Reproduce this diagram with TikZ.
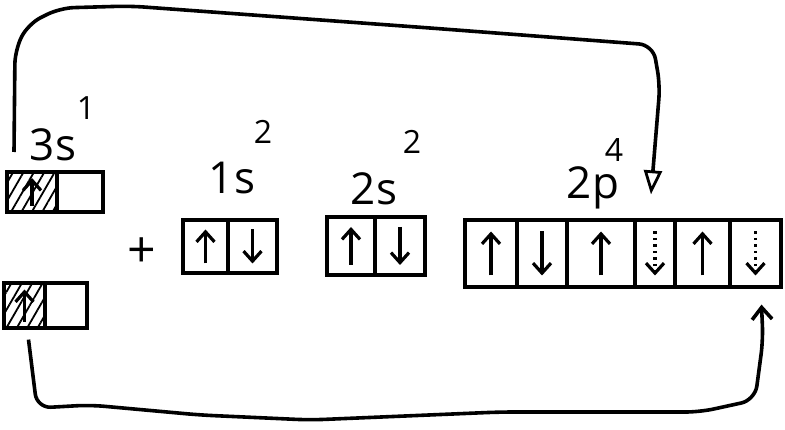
\documentclass[tikz,border=0pt]{standalone}
\usepackage{fontspec}
\setmainfont{Open Sans}
\usetikzlibrary{arrows.meta, positioning, patterns.meta}
\tikzset{
    cell/.style = {rectangle, draw=black, line width=3.2pt, inner sep=0pt},
    hatched/.style = {pattern={Lines[angle=60, distance=9pt, line width=1.8pt]}},
    orblabel/.style = {font=\fontsize{44}{50}\selectfont},
    occ/.style = {font=\fontsize{32}{36}\selectfont},
    spin/.style = {line width=3.2pt, -{Straight Barb[length=10pt, width=18pt]}},
    ghost/.style = {spin, dash pattern=on 2.5pt off 4pt},
    link/.style = {line width=3.6pt, rounded corners=14pt}
}
\begin{document}
\begin{tikzpicture}[x=1pt, y=1pt]
\useasboundingbox (0,0) rectangle (785,429);

\node (u1) [cell, hatched, minimum width=50pt, minimum height=40pt] at (32,237) {};
\node (u2) [cell, minimum width=46pt, minimum height=40pt] at (80,237) {};
\node (l1) [cell, hatched, minimum width=41pt, minimum height=45pt] at (24.5,123.5) {};
\node (l2) [cell, minimum width=42pt, minimum height=45pt] at (66,123.5) {};

\node (a1) [cell, minimum width=45pt, minimum height=53pt] at (205.5,182.5) {};
\node (a2) [cell, minimum width=49pt, minimum height=53pt] at (252.5,182.5) {};
\node (b1) [cell, minimum width=48pt, minimum height=58pt] at (351,183) {};
\node (b2) [cell, minimum width=50pt, minimum height=58pt] at (400,183) {};

\node (p1) [cell, minimum width=52pt, minimum height=67pt] at (491,175.5) {};
\node (p2) [cell, minimum width=50pt, minimum height=67pt] at (542,175.5) {};
\node (p3) [cell, minimum width=68pt, minimum height=67pt] at (601,175.5) {};
\node (p4) [cell, minimum width=40pt, minimum height=67pt] at (655,175.5) {};
\node (p5) [cell, minimum width=55pt, minimum height=67pt] at (702.5,175.5) {};
\node (p6) [cell, minimum width=51pt, minimum height=67pt] at (755.5,175.5) {};

\node (lbl3s) [orblabel] at (53,284) {3s};
\node (occ3s) [occ] at (86,321) {1};
\node (lbl1s) [orblabel] at (232,251) {1s};
\node (occ1s) [occ] at (263,297) {2};
\node (lbl2s) [orblabel] at (374,240) {2s};
\node (occ2s) [occ] at (412,287) {2};
\node (lbl2p) [orblabel] at (593,241) {2p};
\node (occ2p) [occ] at (614,279) {4};
\node (plus) [font=\fontsize{50}{54}\selectfont] at (142,176) {+};

\draw [spin] ([yshift=-14pt]u1.center) -- ([yshift=14pt]u1.center);
\draw [spin] ([yshift=-16pt]l1.center) -- ([yshift=16pt]l1.center);
\draw [spin] ([yshift=-17pt]a1.center) -- ([yshift=17pt]a1.center);
\draw [spin] ([yshift=17pt]a2.center) -- ([yshift=-17pt]a2.center);
\draw [spin] ([yshift=-19pt]b1.center) -- ([yshift=19pt]b1.center);
\draw [spin] ([yshift=19pt]b2.center) -- ([yshift=-19pt]b2.center);
\draw [spin] ([yshift=-22pt]p1.center) -- ([yshift=22pt]p1.center);
\draw [spin] ([yshift=22pt]p2.center) -- ([yshift=-22pt]p2.center);
\draw [spin] ([yshift=-22pt]p3.center) -- ([yshift=22pt]p3.center);
\draw [ghost] ([yshift=22pt]p4.center) -- ([yshift=-22pt]p4.center);
\draw [spin] ([yshift=-22pt]p5.center) -- ([yshift=22pt]p5.center);
\draw [ghost] ([yshift=22pt]p6.center) -- ([yshift=-22pt]p6.center);

\coordinate (topstart) at (14,277);
\draw [link, -{Triangle[open, length=24pt, width=18pt, line width=2.8pt]}] (topstart) -- (15,379) -- (28,405) -- (60,421) -- (130,423) -- (430,401) -- (653,384) -- (660,344) -- ([xshift=-4pt,yshift=24pt]p4.north);
\draw [link, -{Straight Barb[length=12pt, width=20pt]}] ([xshift=4pt,yshift=-10pt]l1.south) -- (37,21) -- (90,24) -- (200,14) -- (310,9) -- (500,17) -- (700,17) -- (755,29) -- (763,89) -- ([xshift=6pt,yshift=-16pt]p6.south);
\end{tikzpicture}
\end{document}
